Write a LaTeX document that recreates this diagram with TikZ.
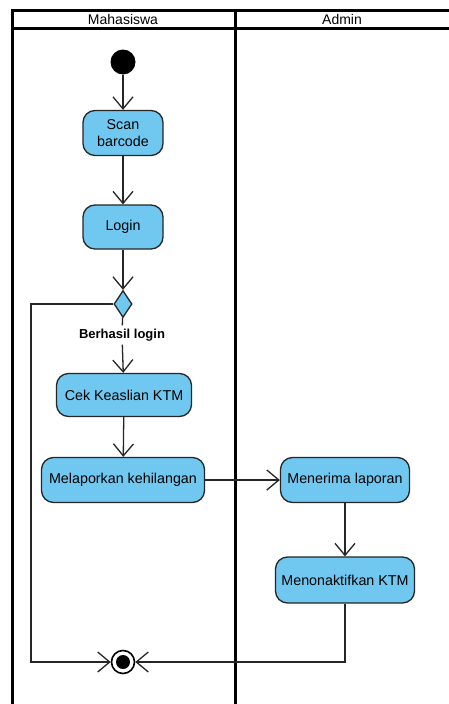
\documentclass[tikz,border=0pt]{standalone}
\usepackage{fontspec}
\setmainfont{Liberation Sans}
\usetikzlibrary{arrows.meta,shapes.geometric}
\definecolor{actblue}{RGB}{112,200,240}
\begin{document}
\begin{tikzpicture}[x=1pt,y=-1pt]
		\tikzstyle{act}=[rectangle,rounded corners=12pt,draw=black!85,line width=1.3pt,fill=actblue,align=center,font=\fontsize{14.3}{17}\selectfont,inner sep=3pt]
		\tikzstyle{flow}=[draw=black!85,line width=1.3pt,-{Straight Barb[length=12pt,width=20pt]}]
		\tikzstyle{line}=[draw=black!85,line width=1.3pt]
		\tikzstyle{lane}=[draw=black,line width=3pt]

		\useasboundingbox (0,0) rectangle (449,704);
		\clip (0,0) rectangle (449,704);
		\fill[white] (0,0) rectangle (449,704);

		% swimlanes
		\path[lane] (12,720) -- (12,10) -- (460,10);
		\path[lane] (12,28) -- (460,28);
		\path[lane] (235,10) -- (235,720);
		\node (mhs) at (123,19) {\fontsize{14}{16}\selectfont Mahasiswa};
		\node (adm) at (342,19) {\fontsize{14}{16}\selectfont Admin};

		\node [circle,fill=black,minimum size=25pt,inner sep=0pt] (start) at (123,62) {};
		\node [act,minimum width=80pt,minimum height=45pt] (scan) at (123,133) {Scan\\barcode};
		\node [act,minimum width=80pt,minimum height=44pt] (login) at (123,227) {Login};
		\node [diamond,draw=black!85,line width=1.3pt,fill=actblue,minimum width=18pt,minimum height=27pt,inner sep=0pt] (dec) at (123,304) {};
		\node [font=\bfseries\fontsize{13}{15}\selectfont] (ok) at (122,335) {Berhasil login};
		\node [act,minimum width=135pt,minimum height=43pt] (cek) at (124,395) {Cek Keaslian KTM};
		\node [act,minimum width=163pt,minimum height=45pt] (lapor) at (123,480) {Melaporkan kehilangan};
		\node [act,minimum width=129pt,minimum height=45pt] (terima) at (345,480) {Menerima laporan};
		\node [act,minimum width=139pt,minimum height=46pt] (nonaktif) at (345,580) {Menonaktifkan KTM};
		\node [circle,draw=black,line width=1.6pt,fill=white,minimum size=23pt,inner sep=0pt] (end) at (123,662) {};
		\node [circle,fill=black,minimum size=14pt,inner sep=0pt] (enddot) at (end) {};

		\coordinate (c1) at (31,304);
		\coordinate (c2) at (31,662);
		\coordinate (c3) at (345,662);

		\path[flow] (start) -- (scan);
		\path[flow] (scan) -- (login);
		\path[flow] (login) -- (dec);
		\path[line] (dec) -- (ok);
		\path[flow] (ok) -- (cek);
		\path[flow] (cek) -- (lapor);
		\path[flow] (lapor) -- (terima);
		\path[flow] (terima) -- (nonaktif);
		\path[flow] (dec.west) -- (c1) -- (c2) -- (end);
		\path[flow] (nonaktif) -- (c3) -- (end);

	\end{tikzpicture}
\end{document}
